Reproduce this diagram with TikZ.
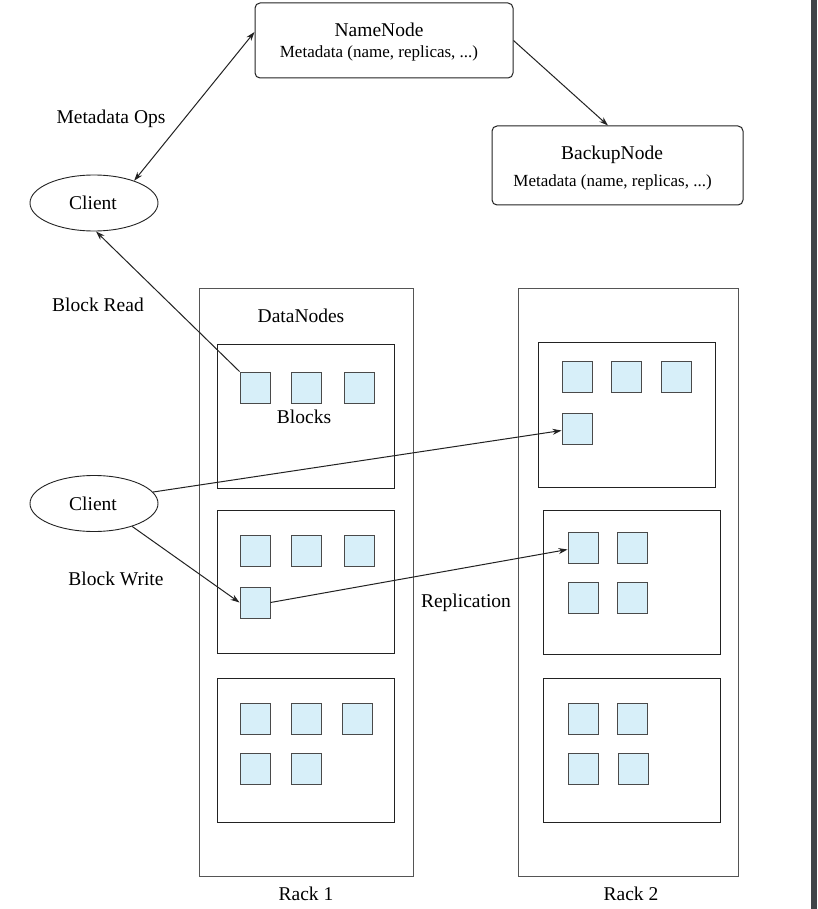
\documentclass[tikz,border=0pt]{standalone}
\usepackage{fontspec}
\setmainfont{Liberation Serif}
\usetikzlibrary{shapes.geometric,arrows.meta}
\definecolor{blkfill}{HTML}{D7EFF9}
\definecolor{blkline}{HTML}{4A4A4A}
\definecolor{linec}{HTML}{222222}
\definecolor{rackc}{HTML}{555555}
\definecolor{barc}{HTML}{3F4448}
\begin{document}
\begin{tikzpicture}[x=1pt,y=-1pt,
  txt/.style={inner sep=0pt, font=\fontsize{19.5}{23}\selectfont},
  smalltxt/.style={inner sep=0pt, font=\fontsize{17}{20}\selectfont},
  srv/.style={draw=linec, rounded corners=5pt, line width=1pt, inner sep=0pt},
  rackbox/.style={draw=rackc, line width=1pt, inner sep=0pt, minimum width=#1},
  dnbox/.style={draw=linec, line width=1pt, inner sep=0pt, minimum width=177pt},
  blk/.style={draw=blkline, fill=blkfill, line width=1pt, minimum width=30pt, minimum height=31pt, inner sep=0pt},
  client/.style={ellipse, draw=linec, line width=0.9pt, minimum width=128pt, minimum height=56pt, inner sep=0pt},
  arr/.style={-{Stealth[length=9pt,width=6pt]}, line width=1pt, draw=linec},
  darr/.style={{Stealth[length=9pt,width=6pt]}-{Stealth[length=9pt,width=6pt]}, line width=1pt, draw=linec}
]
\useasboundingbox (0,0) rectangle (817,909);
\fill[white] (0,0) rectangle (817,909);
\fill[barc] (811,0) rectangle (817,909);

% servers
\node[srv, minimum width=258pt, minimum height=75pt] (nn) at (384,40.5) {};
\node[txt] (nnt) at (379,30) {NameNode};
\node[smalltxt] (nnm) at (379,53) {Metadata (name, replicas, ...)};
\node[srv, minimum width=251pt, minimum height=79pt] (bn) at (617.5,165.5) {};
\node[txt] (bnt) at (612,155) {BackupNode};
\node[smalltxt] (bnm) at (612.5,182) {Metadata (name, replicas, ...)};

% clients
\node[client] (c1) at (94,203) {};
\node[txt] (c1t) at (93,203) {Client};
\node[client] (c2) at (94,503.5) {};
\node[txt] (c2t) at (93,503.5) {Client};

% racks
\node[rackbox=214pt, minimum height=588pt] (rack1) at (306,582) {};
\node[rackbox=220pt, minimum height=588pt] (rack2) at (628,582) {};
\node[txt] (r1l) at (306,894) {Rack 1};
\node[txt] (r2l) at (631,894) {Rack 2};
\node[txt] (dnl) at (301,316) {DataNodes};

% datanode boxes
\node[dnbox, minimum height=144pt] (d11) at (305.5,416) {};
\node[dnbox, minimum height=143pt] (d12) at (305.5,581.5) {};
\node[dnbox, minimum height=144pt] (d13) at (305.5,750) {};
\node[dnbox, minimum height=145pt] (d21) at (626.5,414.5) {};
\node[dnbox, minimum height=144pt] (d22) at (631.5,582) {};
\node[dnbox, minimum height=144pt] (d23) at (631.5,750) {};

% blocks (centres)
\node[blk] (b111) at (255,387.5) {};
\node[blk] (b112) at (306,387.5) {};
\node[blk] (b113) at (359,387.5) {};
\node[txt] (blkl) at (304,417) {Blocks};

\node[blk] (b121) at (255,550.5) {};
\node[blk] (b122) at (306,550.5) {};
\node[blk] (b123) at (359,550.5) {};
\node[blk] (b124) at (255,602.5) {};

\node[blk] (b131) at (255,718.5) {};
\node[blk] (b132) at (306,718.5) {};
\node[blk] (b133) at (357,718.5) {};
\node[blk] (b134) at (255,768.5) {};
\node[blk] (b135) at (306,768.5) {};

\node[blk] (b211) at (577,376.5) {};
\node[blk] (b212) at (626,376.5) {};
\node[blk] (b213) at (676,376.5) {};
\node[blk] (b214) at (577,428.5) {};

\node[blk] (b221) at (583,547.5) {};
\node[blk] (b222) at (632,547.5) {};
\node[blk] (b223) at (583,597.5) {};
\node[blk] (b224) at (632,597.5) {};

\node[blk] (b231) at (583,718.5) {};
\node[blk] (b232) at (632,718.5) {};
\node[blk] (b233) at (583,768.5) {};
\node[blk] (b234) at (633,768.5) {};

% labels
\node[txt] (mol) at (111,119) {Metadata Ops};
\node[txt] (brl) at (98,305) {Block Read};
\node[txt] (bwl) at (116,579) {Block Write};
\node[txt] (repl) at (466,603) {Replication};

% connectors
\draw[darr] ([yshift=8.5pt]nn.west) -- (c1.29);
\draw[arr] (nn.east) -- ([xshift=-9.5pt]bn.north);
\draw[arr] (b111.north west) -- ([xshift=2pt]c1.south);
\draw[arr] (c2.11) -- ([yshift=-2pt]b214.west);
\draw[arr] (c2.-31) -- (b124.west);
\draw[arr] (b124.east) -- ([yshift=-2pt]b221.west);
\end{tikzpicture}
\end{document}
